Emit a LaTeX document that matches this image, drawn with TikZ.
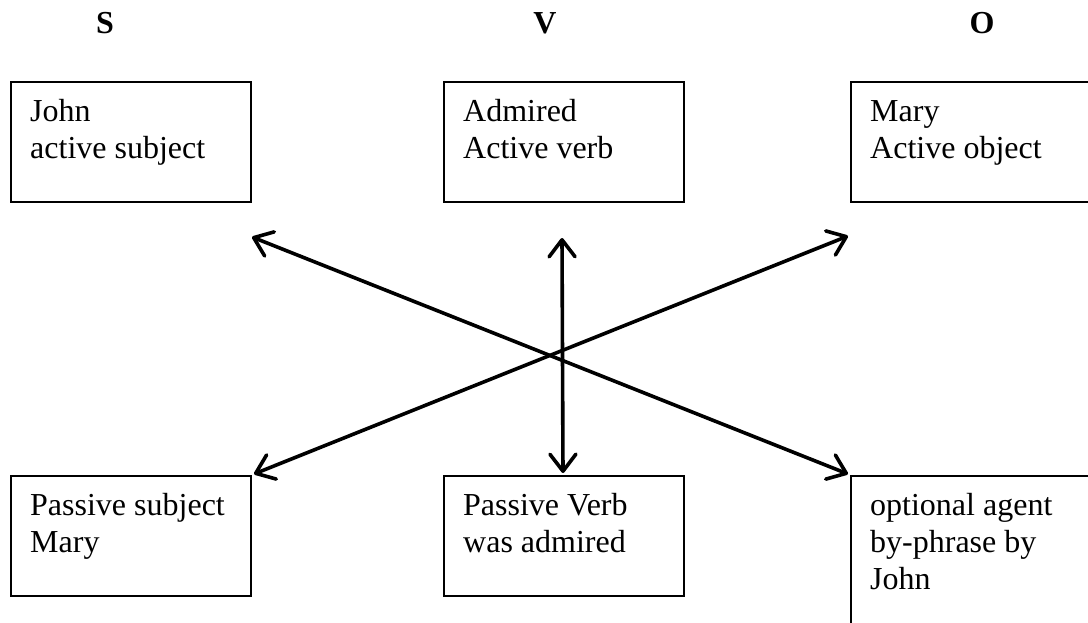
\documentclass[tikz,border=0pt]{standalone}
\usepackage{fontspec}
\setmainfont{Liberation Serif}
\usetikzlibrary{arrows.meta,calc}
\begin{document}
\begin{tikzpicture}[x=1pt,y=-1pt,
  box/.style={draw=black,line width=2pt,minimum width=240pt,minimum height=120pt,inner sep=0pt,anchor=north west},
  tallbox/.style={box,minimum height=170pt},
  txt/.style={inner sep=0pt,anchor=north west,align=left,font=\fontsize{32}{37}\selectfont},
  hdr/.style={inner sep=0pt,anchor=base,font=\fontsize{32}{37}\selectfont\bfseries},
  dbl/.style={line width=3.6pt,line cap=round,{Straight Barb[length=17pt,width=26pt,line width=3.6pt,round]}-{Straight Barb[length=17pt,width=26pt,line width=3.6pt,round]}}]
\useasboundingbox (0,0) rectangle (1088,623);
\clip (0,0) rectangle (1088,623);
% headers
\node[hdr] (hs) at (105,34) {S};
\node[hdr] (hv) at (545,34) {V};
\node[hdr] (ho) at (982,34) {O};
% boxes
\node[box] (as) at (10,81) {};
\node[box] (av) at (443,81) {};
\node[box] (ao) at (850,81) {};
\node[box] (ps) at (10,475) {};
\node[box] (pv) at (443,475) {};
\node[tallbox] (pa) at (850,475) {};
% texts (first baseline 40pt below the box top)
\node[txt] (tas) at ($(as.north west)+(20,14.1)$) {\strut John\\active subject};
\node[txt] (tav) at ($(av.north west)+(20,14.1)$) {\strut Admired\\Active verb};
\node[txt] (tao) at ($(ao.north west)+(20,14.1)$) {\strut Mary\\Active object};
\node[txt] (tps) at ($(ps.north west)+(20,14.1)$) {\strut Passive subject\\Mary};
\node[txt] (tpv) at ($(pv.north west)+(20,14.1)$) {\strut Passive Verb\\was admired};
\node[txt] (tpa) at ($(pa.north west)+(20,14.1)$) {\strut optional agent\\by-phrase by\\John};
% free ends of connectors
\coordinate (ul) at (252,237);
\coordinate (um) at (562,238);
\coordinate (ur) at (848,236);
% connectors
\draw[dbl] (ul) -- ($(pa.north west)+(-2,-1)$);
\draw[dbl] ($(ps.north east)+(2,-1)$) -- (ur);
\draw[dbl] (um) -- ($(pv.north)+(-1,-2)$);
\end{tikzpicture}
\end{document}
